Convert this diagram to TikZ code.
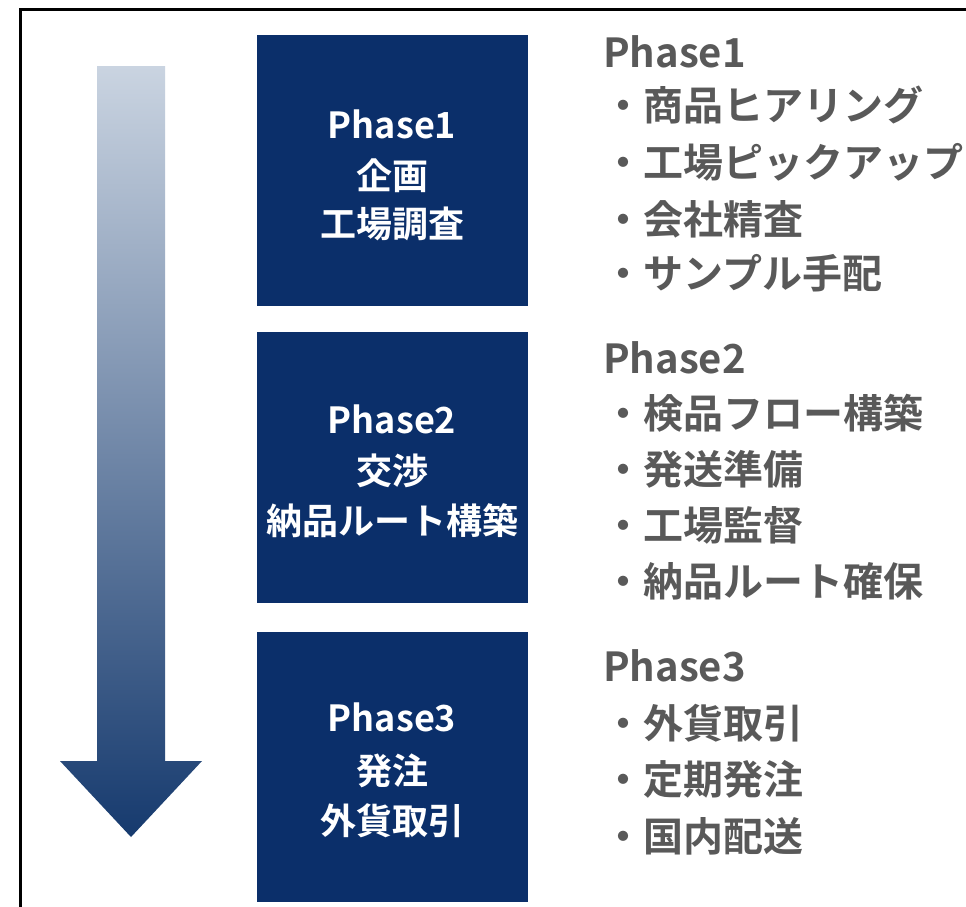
\documentclass[tikz,border=0pt]{standalone}
\usepackage{fontspec}
\setmainfont{Noto Sans CJK JP}[BoldFont={* Bold}]
\newfontfamily\jpbold{Noto Sans CJK JP Bold}
\definecolor{navy}{HTML}{0B2F6A}
\definecolor{greytext}{HTML}{595959}
\definecolor{arrowtop}{HTML}{CAD4E1}
\definecolor{arrowbot}{HTML}{163A6E}
\begin{document}
\begin{tikzpicture}[x=1pt,y=-1pt,
  phasebox/.style={fill=navy,draw=none},
  boxtxt/.style={text=white,font=\jpbold\fontsize{36}{36}\selectfont,anchor=base,inner sep=0pt},
  sidetxt/.style={text=greytext,font=\jpbold\fontsize{40}{40}\selectfont,anchor=base west,inner sep=0pt}]
\useasboundingbox (0,0) rectangle (966,906);
\fill[white] (0,0) rectangle (966,906);
% frame
\draw[line width=3pt] (20,912) -- (20,9.5) -- (972,9.5);
% arrow
\shade[top color=arrowtop,bottom color=arrowbot,shading angle=0]
  (97,66) -- (165,66) -- (165,761) -- (202,761) -- (131,837) -- (60,761) -- (97,761) -- cycle;
% boxes
\fill[phasebox] (257,35) rectangle (528,306);
\fill[phasebox] (257,332) rectangle (528,603);
\fill[phasebox] (257,632) rectangle (528,902);
% box texts
\node[boxtxt] (b1a) at (392,138) {Phase1};
\node[boxtxt] (b1b) at (392,189) {企画};
\node[boxtxt] (b1c) at (392,237) {工場調査};
\node[boxtxt] (b2a) at (392,433) {Phase2};
\node[boxtxt] (b2b) at (392,484) {交渉};
\node[boxtxt] (b2c) at (392,534) {納品ルート構築};
\node[boxtxt] (b3a) at (392,731) {Phase3};
\node[boxtxt] (b3b) at (392,784) {発注};
\node[boxtxt] (b3c) at (392,834) {外貨取引};
% side texts
\node[sidetxt] (s1) at (603,67) {Phase1};
\node[sidetxt] (s1a) at (603,120) {・商品ヒアリング};
\node[sidetxt] (s1b) at (603,177) {・工場ピックアップ};
\node[sidetxt] (s1c) at (603,234) {・会社精査};
\node[sidetxt] (s1d) at (603,288) {・サンプル手配};
\node[sidetxt] (s2) at (603,373) {Phase2};
\node[sidetxt] (s2a) at (603,428) {・検品フロー構築};
\node[sidetxt] (s2b) at (603,484) {・発送準備};
\node[sidetxt] (s2c) at (603,540) {・工場監督};
\node[sidetxt] (s2d) at (603,596) {・納品ルート確保};
\node[sidetxt] (s3) at (603,681) {Phase3};
\node[sidetxt] (s3a) at (603,738) {・外貨取引};
\node[sidetxt] (s3b) at (603,794) {・定期発注};
\node[sidetxt] (s3c) at (603,851) {・国内配送};
\end{tikzpicture}
\end{document}
